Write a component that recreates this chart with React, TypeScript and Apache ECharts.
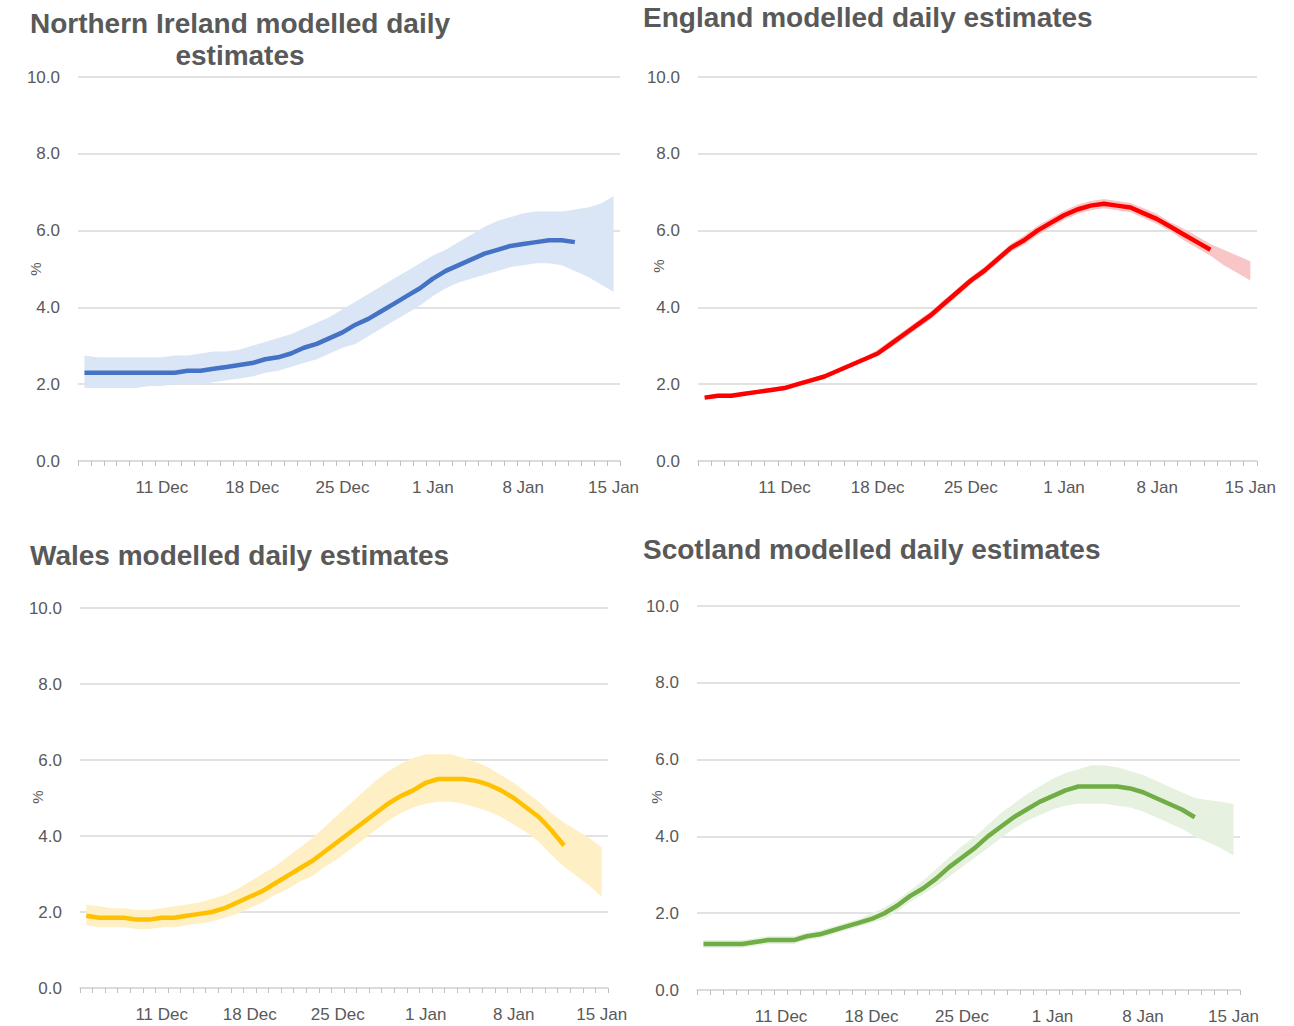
import React, { useEffect, useRef } from "react";
import * as echarts from "echarts";

// 5 Dec .. 15 Jan
const dates: string[] = [];
for (let d = 5; d <= 31; d++) dates.push(d + " Dec");
for (let d = 1; d <= 15; d++) dates.push(d + " Jan");
const tickLabels = ["11 Dec", "18 Dec", "25 Dec", "1 Jan", "8 Jan", "15 Jan"];

const niLine = [2.3, 2.3, 2.3, 2.3, 2.3, 2.3, 2.3, 2.3, 2.35, 2.35, 2.4, 2.45, 2.5, 2.55, 2.65, 2.7, 2.8, 2.95, 3.05, 3.2, 3.35, 3.55, 3.7, 3.9, 4.1, 4.3, 4.5, 4.75, 4.95, 5.1, 5.25, 5.4, 5.5, 5.6, 5.65, 5.7, 5.75, 5.75, 5.7];
const niUpper = [2.75, 2.7, 2.7, 2.7, 2.7, 2.7, 2.7, 2.75, 2.75, 2.8, 2.85, 2.85, 2.9, 3.0, 3.1, 3.2, 3.3, 3.45, 3.6, 3.75, 3.95, 4.15, 4.35, 4.55, 4.75, 4.95, 5.15, 5.35, 5.5, 5.7, 5.9, 6.1, 6.25, 6.35, 6.45, 6.5, 6.5, 6.5, 6.55, 6.6, 6.7, 6.9];
const niLower = [1.9, 1.9, 1.9, 1.9, 1.9, 1.95, 1.95, 2.0, 2.0, 2.0, 2.05, 2.1, 2.15, 2.2, 2.3, 2.35, 2.45, 2.55, 2.65, 2.8, 2.95, 3.05, 3.25, 3.45, 3.65, 3.85, 4.05, 4.3, 4.5, 4.65, 4.75, 4.85, 4.95, 5.05, 5.1, 5.15, 5.15, 5.1, 4.95, 4.8, 4.6, 4.4];

const enLine = [1.65, 1.7, 1.7, 1.75, 1.8, 1.85, 1.9, 2.0, 2.1, 2.2, 2.35, 2.5, 2.65, 2.8, 3.05, 3.3, 3.55, 3.8, 4.1, 4.4, 4.7, 4.95, 5.25, 5.55, 5.75, 6.0, 6.2, 6.4, 6.55, 6.65, 6.7, 6.65, 6.6, 6.45, 6.3, 6.1, 5.9, 5.7, 5.5];
const enUpper = [1.7, 1.75, 1.75, 1.8, 1.85, 1.9, 1.95, 2.05, 2.15, 2.25, 2.4, 2.55, 2.7, 2.9, 3.15, 3.4, 3.65, 3.9, 4.2, 4.5, 4.8, 5.05, 5.35, 5.65, 5.87, 6.12, 6.32, 6.52, 6.67, 6.77, 6.82, 6.77, 6.72, 6.58, 6.43, 6.22, 6.05, 5.85, 5.65, 5.5, 5.35, 5.2];
const enLower = [1.6, 1.65, 1.65, 1.7, 1.75, 1.8, 1.85, 1.95, 2.05, 2.15, 2.3, 2.45, 2.6, 2.75, 2.95, 3.2, 3.45, 3.7, 4.0, 4.3, 4.6, 4.85, 5.15, 5.45, 5.63, 5.88, 6.08, 6.28, 6.43, 6.53, 6.58, 6.53, 6.48, 6.32, 6.17, 5.98, 5.75, 5.55, 5.35, 5.1, 4.9, 4.7];

const waLine = [1.9, 1.85, 1.85, 1.85, 1.8, 1.8, 1.85, 1.85, 1.9, 1.95, 2.0, 2.1, 2.25, 2.4, 2.55, 2.75, 2.95, 3.15, 3.35, 3.6, 3.85, 4.1, 4.35, 4.6, 4.85, 5.05, 5.2, 5.4, 5.5, 5.5, 5.5, 5.45, 5.35, 5.2, 5.0, 4.75, 4.5, 4.15, 3.75];
const waUpper = [2.2, 2.15, 2.1, 2.1, 2.05, 2.05, 2.1, 2.15, 2.2, 2.25, 2.35, 2.45, 2.6, 2.8, 3.0, 3.2, 3.45, 3.7, 3.95, 4.25, 4.55, 4.85, 5.15, 5.45, 5.7, 5.9, 6.05, 6.15, 6.15, 6.15, 6.05, 5.95, 5.8, 5.6, 5.4, 5.15, 4.9, 4.6, 4.35, 4.15, 3.95, 3.7];
const waLower = [1.65, 1.6, 1.6, 1.6, 1.55, 1.55, 1.6, 1.6, 1.65, 1.7, 1.75, 1.85, 1.95, 2.1, 2.25, 2.45, 2.6, 2.8, 2.95, 3.2, 3.4, 3.65, 3.9, 4.15, 4.4, 4.6, 4.75, 4.85, 4.9, 4.9, 4.85, 4.75, 4.65, 4.5, 4.3, 4.1, 3.85, 3.5, 3.2, 2.95, 2.7, 2.4];

const scLine = [1.2, 1.2, 1.2, 1.2, 1.25, 1.3, 1.3, 1.3, 1.4, 1.45, 1.55, 1.65, 1.75, 1.85, 2.0, 2.2, 2.45, 2.65, 2.9, 3.2, 3.45, 3.7, 4.0, 4.25, 4.5, 4.7, 4.9, 5.05, 5.2, 5.3, 5.3, 5.3, 5.3, 5.25, 5.15, 5.0, 4.85, 4.7, 4.5];
const scUpper = [1.3, 1.3, 1.3, 1.3, 1.35, 1.4, 1.4, 1.4, 1.5, 1.55, 1.65, 1.75, 1.85, 2.0, 2.15, 2.35, 2.6, 2.85, 3.15, 3.45, 3.75, 4.0, 4.3, 4.6, 4.85, 5.1, 5.3, 5.5, 5.65, 5.75, 5.85, 5.85, 5.8, 5.7, 5.6, 5.45, 5.3, 5.15, 5.0, 4.95, 4.9, 4.85];
const scLower = [1.1, 1.1, 1.1, 1.1, 1.15, 1.2, 1.2, 1.2, 1.3, 1.35, 1.45, 1.55, 1.65, 1.75, 1.85, 2.05, 2.3, 2.5, 2.7, 2.95, 3.2, 3.45, 3.7, 3.95, 4.2, 4.4, 4.55, 4.7, 4.8, 4.85, 4.85, 4.85, 4.8, 4.75, 4.65, 4.5, 4.35, 4.2, 4.0, 3.85, 3.7, 3.5];

const panels = [
  { line: niLine, upper: niUpper, lower: niLower, color: "#4472C4", band: "#DAE6F5", grid: { left: 78, width: 542, top: 77, height: 384 }, pct: [35, 269] },
  { line: enLine, upper: enUpper, lower: enLower, color: "#FF0000", band: "#F8C6C6", grid: { left: 698, width: 559, top: 77, height: 384 }, pct: [658, 266] },
  { line: waLine, upper: waUpper, lower: waLower, color: "#FFC000", band: "#FFEFC4", grid: { left: 80, width: 528, top: 608, height: 380 }, pct: [37, 797] },
  { line: scLine, upper: scUpper, lower: scLower, color: "#70AD47", band: "#E6F2DF", grid: { left: 697, width: 543, top: 606, height: 384 }, pct: [656, 797] },
];

const gray = "#595959";
const font = "Liberation Sans, Arial, sans-serif";

const App: React.FC = () => {
  const ref = useRef<HTMLDivElement | null>(null);

  useEffect(() => {
    if (!ref.current) return;
    const chart = echarts.init(ref.current, undefined, { renderer: "svg" });
    const title = (text: string, left: number, top: number, align = "left") => ({
      text,
      left,
      top,
      textAlign: align,
      textStyle: { color: gray, fontSize: 28, fontWeight: "bold", fontFamily: font, lineHeight: 32 },
    });
    const series: any[] = [];
    panels.forEach((p, i) => {
      series.push({
        type: "line", xAxisIndex: i, yAxisIndex: i, stack: "b" + i, data: p.lower,
        symbol: "none", lineStyle: { width: 0 }, silent: true,
      });
      series.push({
        type: "line", xAxisIndex: i, yAxisIndex: i, stack: "b" + i,
        data: p.upper.map((u, k) => +(u - p.lower[k]).toFixed(3)),
        symbol: "none", lineStyle: { width: 0 }, areaStyle: { color: p.band, opacity: 1 }, silent: true,
      });
      series.push({
        type: "line", xAxisIndex: i, yAxisIndex: i, data: p.line,
        symbol: "none", lineStyle: { width: 4.5, color: p.color }, z: 5,
      });
    });
    chart.setOption({
      animation: false,
      title: [
        title("Northern Ireland modelled daily\nestimates", 235, 2, "center"),
        title("England modelled daily estimates", 638, -4),
        title("Wales modelled daily estimates", 25, 534),
        title("Scotland modelled daily estimates", 638, 528),
      ],
      graphic: panels.map((p) => ({
        type: "text",
        x: p.pct[0],
        y: p.pct[1],
        rotation: Math.PI / 2,
        style: { text: "%", fill: gray, fontSize: 15, fontFamily: font, align: "center", verticalAlign: "middle" },
      })),
      grid: panels.map((p) => p.grid),
      xAxis: panels.map((_, i) => ({
        type: "category",
        gridIndex: i,
        data: dates,
        boundaryGap: true,
        axisLine: { lineStyle: { color: "#d9d9d9", width: 1.5 } },
        axisTick: { show: true, interval: 0, length: 5, lineStyle: { color: "#bfbfbf" } },
        axisLabel: {
          interval: (_idx: number, v: string) => tickLabels.includes(v),
          color: gray, fontSize: 17, fontFamily: font, margin: 18,
        },
      })),
      yAxis: panels.map((_, i) => ({
        type: "value",
        gridIndex: i,
        min: 0,
        max: 10,
        interval: 2,
        axisLabel: { formatter: (v: number) => v.toFixed(1), color: gray, fontSize: 17, fontFamily: font, margin: 18 },
        splitLine: { lineStyle: { color: "#d9d9d9", width: 1.5 } },
        axisLine: { show: false },
        axisTick: { show: false },
      })),
      series,
    });
    return () => chart.dispose();
  }, []);

  return (
    <div
      ref={ref}
      style={{ position: "absolute", left: 0, top: 0, width: "1294px", height: "1026px", background: "#fff" }}
    ></div>
  );
};

export default App;
